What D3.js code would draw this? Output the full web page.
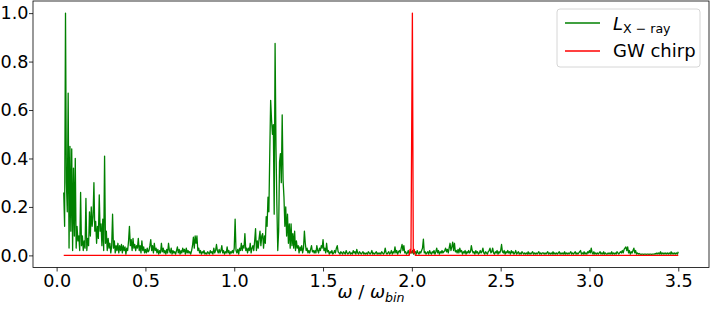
<!DOCTYPE html>
<html>
<head>
<meta charset="utf-8">
<script src="https://cdn.jsdelivr.net/npm/d3@7"></script>
<style>
  body { margin: 0; background: #fff; }
  svg { font-family: "DejaVu Sans", sans-serif; }
</style>
</head>
<body>
<div id="chart"></div>
<script>
// frequency grid of the X-ray spectrum
const omegaStart = 0.04, omegaStep = 0.005;

// normalised X-ray luminosity spectrum, one row per 0.1 in omega
const lxray = [
0.26,0.12,1.00,0.30,0.18,0.67,0.03,0.45,0.10,0.44,0.02,0.36,0.08,0.40,0.03,0.12,0.06,0.08,0.02,0.26,
0.04,0.08,0.02,0.06,0.03,0.235,0.02,0.07,0.04,0.18,0.08,0.20,0.12,0.16,0.30,0.10,0.14,0.05,0.12,0.07,
0.25,0.10,0.13,0.04,0.15,0.02,0.41,0.05,0.10,0.02,0.07,0.03,0.05,0.01,0.04,0.17,0.03,0.06,0.01,0.04,
0.02,0.05,0.01,0.04,0.02,0.045,0.01,0.04,0.02,0.035,0.005,0.03,0.02,0.06,0.12,0.04,0.065,0.02,0.07,0.03,
0.045,0.02,0.04,0.03,0.07,0.02,0.04,0.01,0.06,0.02,0.035,0.01,0.025,0.01,0.03,0.015,0.02,0.04,0.065,0.02,
0.04,0.01,0.05,0.02,0.03,0.01,0.025,0.005,0.02,0.01,0.05,0.015,0.03,0.01,0.02,0.005,0.025,0.01,0.05,0.02,
0.01,0.03,0.005,0.02,0.01,0.015,0.005,0.02,0.035,0.01,0.025,0.005,0.02,0.01,0.03,0.015,0.025,0.005,0.03,0.01,
0.02,0.01,0.015,0.005,0.02,0.04,0.075,0.03,0.08,0.05,0.08,0.02,0.03,0.01,0.02,0.005,0.015,0.01,0.02,0.005,
0.01,0.005,0.015,0.01,0.005,0.02,0.01,0.015,0.005,0.03,0.01,0.02,0.045,0.02,0.01,0.025,0.01,0.02,0.04,0.01,
0.02,0.005,0.015,0.01,0.035,0.01,0.02,0.005,0.015,0.01,0.02,0.01,0.03,0.15,0.02,0.01,0.025,0.005,0.03,0.02,
0.05,0.02,0.04,0.03,0.09,0.02,0.03,0.01,0.03,0.02,0.05,0.01,0.03,0.04,0.02,0.06,0.11,0.02,0.06,0.03,
0.07,0.10,0.04,0.08,0.09,0.03,0.08,0.05,0.16,0.12,0.24,0.18,0.42,0.64,0.56,0.50,0.54,0.17,0.875,0.45,
0.21,0.02,0.10,0.385,0.42,0.30,0.58,0.31,0.24,0.12,0.20,0.08,0.17,0.05,0.13,0.03,0.13,0.04,0.09,0.03,
0.10,0.02,0.06,0.03,0.04,0.01,0.035,0.02,0.04,0.01,0.03,0.10,0.05,0.02,0.03,0.01,0.02,0.01,0.025,0.04,
0.015,0.02,0.01,0.02,0.01,0.04,0.02,0.01,0.03,0.02,0.04,0.03,0.065,0.02,0.03,0.01,0.05,0.015,0.02,0.005,
0.015,0.01,0.02,0.005,0.01,0.02,0.01,0.03,0.04,0.015,0.01,0.005,0.015,0.01,0.005,0.015,0.01,0.005,0.02,0.01,
0.005,0.01,0.015,0.005,0.01,0.005,0.02,0.01,0.015,0.005,0.025,0.01,0.005,0.015,0.01,0.005,0.01,0.015,0.005,0.01,
0.005,0.01,0.005,0.015,0.01,0.005,0.01,0.02,0.005,0.01,0.005,0.01,0.015,0.005,0.01,0.005,0.01,0.005,0.015,0.01,
0.005,0.01,0.03,0.01,0.005,0.01,0.015,0.005,0.01,0.02,0.005,0.015,0.01,0.035,0.01,0.02,0.005,0.015,0.02,0.01,
0.03,0.045,0.02,0.04,0.01,0.015,0.005,0.01,0.02,0.005,0.01,0.015,0.01,0.02,0.005,0.01,0.015,0.005,0.02,0.01,
0.005,0.015,0.01,0.02,0.03,0.067,0.01,0.015,0.005,0.01,0.015,0.005,0.02,0.01,0.005,0.015,0.01,0.02,0.005,0.015,
0.03,0.01,0.02,0.005,0.015,0.01,0.02,0.01,0.015,0.02,0.03,0.015,0.025,0.01,0.03,0.05,0.02,0.035,0.055,0.02,
0.05,0.015,0.02,0.01,0.025,0.01,0.03,0.015,0.02,0.005,0.015,0.01,0.02,0.005,0.015,0.01,0.02,0.01,0.015,0.04,
0.02,0.01,0.015,0.005,0.02,0.01,0.015,0.005,0.01,0.02,0.01,0.015,0.03,0.01,0.005,0.015,0.01,0.005,0.015,0.02,
0.03,0.01,0.015,0.03,0.01,0.005,0.015,0.01,0.02,0.005,0.015,0.01,0.02,0.045,0.015,0.01,0.02,0.005,0.015,0.01,
0.02,0.01,0.015,0.005,0.02,0.01,0.015,0.005,0.01,0.02,0.005,0.01,0.015,0.005,0.01,0.005,0.015,0.01,0.005,0.01,
0.005,0.01,0.005,0.015,0.005,0.01,0.005,0.01,0.015,0.005,0.01,0.005,0.01,0.005,0.01,0.015,0.005,0.01,0.005,0.01,
0.01,0.005,0.01,0.005,0.01,0.015,0.005,0.01,0.005,0.01,0.005,0.015,0.005,0.01,0.005,0.01,0.005,0.01,0.015,0.005,
0.01,0.005,0.01,0.005,0.015,0.005,0.01,0.005,0.01,0.005,0.01,0.015,0.005,0.01,0.005,0.01,0.015,0.005,0.01,0.005,
0.01,0.015,0.02,0.005,0.01,0.005,0.015,0.005,0.01,0.005,0.015,0.01,0.02,0.01,0.03,0.01,0.005,0.015,0.005,0.01,
0.005,0.01,0.005,0.01,0.015,0.005,0.01,0.005,0.015,0.005,0.01,0.005,0.005,0.01,0.005,0.01,0.005,0.015,0.005,0.01,
0.005,0.01,0.005,0.015,0.01,0.005,0.01,0.015,0.01,0.02,0.01,0.025,0.03,0.035,0.02,0.035,0.01,0.02,0.005,0.015,
0.01,0.02,0.03,0.01,0.02,0.005,0.01,0.005,0.008,0.005,0.004,0.005,0.005,0.004,0.005,0.005,0.004,0.005,0.005,0.004,
0.005,0.005,0.004,0.005,0.005,0.005,0.008,0.005,0.01,0.005,0.01,0.005,0.015,0.005,0.01,0.005,0.01,0.005,0.01,0.005,
0.01,0.005,0.01,0.005,0.015,0.005,0.01,0.005,0.01,0.005,0.01,0.005,0.015
];

// GW chirp: flat except for the spike at twice the binary frequency
const gwOmega = [0.04, 1.985, 1.99, 1.995, 2.003, 2.008, 2.013, 2.02, 3.5];
const gwValues = [0, 0, 0.025, 0.01, 1.0, 0.01, 0.025, 0, 0];

const xTicks = [0, 0.5, 1.0, 1.5, 2.0, 2.5, 3.0, 3.5];
const yTicks = [0, 0.2, 0.4, 0.6, 0.8, 1.0];

const xray = lxray.map((v, i) => ({ w: omegaStart + i * omegaStep, v: v }));
const gw = gwOmega.map((w, i) => ({ w: w, v: gwValues[i] }));

// set the dimensions and margins of the graph
const margin = { top: 1, right: 1, bottom: 43.5, left: 33 },
    width = 710 - margin.left - margin.right,
    height = 311 - margin.top - margin.bottom;

const svg = d3.select("#chart")
    .append("svg")
    .attr("width", 710)
    .attr("height", 311)
    .append("g")
    .attr("transform", `translate(${margin.left},${margin.top})`);

// matplotlib style 5% margins
const xMin = d3.min(xray, d => d.w), xMax = d3.max(xray, d => d.w);
const xPad = (xMax - xMin) * 0.05;
const x = d3.scaleLinear()
    .domain([xMin - xPad, xMax + xPad])
    .range([0, width]);

const y = d3.scaleLinear()
    .domain([-0.05, 1.05])
    .range([height, 0]);

const line = d3.line()
    .x(d => x(d.w))
    .y(d => y(d.v));

svg.append("path")
    .datum(xray)
    .attr("fill", "none")
    .attr("stroke", "#008000")
    .attr("stroke-width", 1.3)
    .attr("stroke-linejoin", "round")
    .attr("d", line);

svg.append("path")
    .datum(gw)
    .attr("fill", "none")
    .attr("stroke", "#ff0000")
    .attr("stroke-width", 1.3)
    .attr("stroke-linejoin", "round")
    .attr("d", line);

// axes
const xAxis = svg.append("g")
    .attr("transform", `translate(0,${height})`)
    .call(d3.axisBottom(x).tickValues(xTicks).tickFormat(d3.format(".1f")).tickSize(4).tickPadding(3.5));
const yAxis = svg.append("g")
    .call(d3.axisLeft(y).tickValues(yTicks).tickFormat(d3.format(".1f")).tickSize(4).tickPadding(0.5));

[xAxis, yAxis].forEach(g => {
    g.select(".domain").remove();
    g.selectAll("line").attr("stroke", "#000").attr("stroke-width", 0.8);
    g.selectAll("text")
        .attr("fill", "#000")
        .style("font-size", "17.6px")
        .style("font-family", "DejaVu Sans");
});

// frame
svg.append("rect")
    .attr("x", 0)
    .attr("y", 0)
    .attr("width", width)
    .attr("height", height)
    .attr("fill", "none")
    .attr("stroke", "#000")
    .attr("stroke-width", 0.8);

// x label
const xl = svg.append("text")
    .attr("x", width / 2)
    .attr("y", height + 30.5)
    .attr("text-anchor", "middle")
    .style("font-size", "18px")
    .style("font-family", "DejaVu Sans");
xl.append("tspan").style("font-style", "italic").text("ω");
xl.append("tspan").text(" / ");
xl.append("tspan").style("font-style", "italic").text("ω");
xl.append("tspan").style("font-style", "italic").style("font-size", "12.6px").attr("dy", 4).text("bin");

// legend
const lg = svg.append("g").attr("transform", `translate(${557 - margin.left},${9 - margin.top})`);
lg.append("rect")
    .attr("width", 143)
    .attr("height", 58)
    .attr("rx", 3)
    .attr("fill", "#fff")
    .attr("fill-opacity", 0.8)
    .attr("stroke", "#cccccc")
    .attr("stroke-width", 0.8);

const entries = [
    { color: "#008000", yy: 14 },
    { color: "#ff0000", yy: 42 }
];
lg.selectAll("line.key")
    .data(entries)
    .join("line")
    .attr("class", "key")
    .attr("x1", 8).attr("x2", 43)
    .attr("y1", d => d.yy).attr("y2", d => d.yy)
    .attr("stroke", d => d.color)
    .attr("stroke-width", 1.3);

const t1 = lg.append("text")
    .attr("x", 56)
    .attr("y", 21)
    .style("font-size", "18px")
    .style("font-family", "DejaVu Sans");
t1.append("tspan").style("font-style", "italic").text("L");
t1.append("tspan").style("font-size", "12.6px").attr("dy", 2.5).text("X − ray");

lg.append("text")
    .attr("x", 56)
    .attr("y", 48)
    .style("font-size", "18px")
    .style("font-family", "DejaVu Sans")
    .text("GW chirp");
</script>
</body>
</html>
